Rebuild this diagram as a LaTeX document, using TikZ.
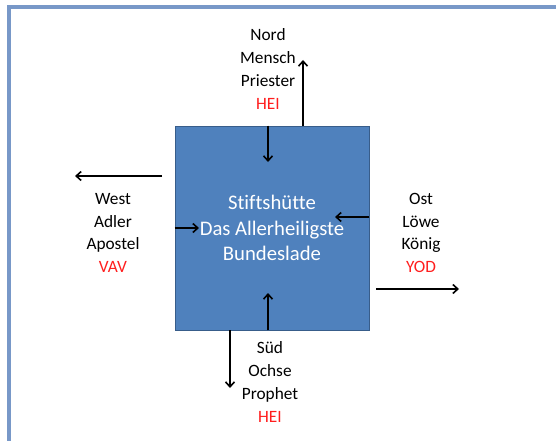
\documentclass[tikz,border=0pt]{standalone}
\usepackage{fontspec}
\setmainfont{Carlito}[Ligatures=NoCommon]
\usetikzlibrary{arrows.meta, positioning}
\definecolor{frameblue}{RGB}{120, 152, 200}
\definecolor{boxblue}{RGB}{79, 129, 189}
\definecolor{boxedge}{RGB}{56, 93, 138}
\definecolor{letterred}{RGB}{255, 30, 30}

\begin{document}
\begin{tikzpicture}[
  x=1pt, y=-1pt,
  hutte/.style={rectangle, draw=boxedge, fill=boxblue, line width=0.8pt, minimum width=194pt, minimum height=204pt, text=white, align=center, font=\fontsize{20.7}{25.5}\selectfont},
  side/.style={align=center, font=\fontsize{17.3}{22.7}\selectfont},
  arrow/.style={-{Straight Barb[length=5pt, width=9pt]}, line width=1.6pt, black}
]
  \useasboundingbox (0,0) rectangle (556,441);
  \draw[frameblue, line width=4.5pt] (9,441) -- (9,7) -- (556,7);

  \node[hutte] (hutte) at (272,228) {Stiftshütte\\Das Allerheiligste\\Bundeslade};

  \node[side] (nord) at (268,69) {Nord\\Mensch\\Priester\\{\color{letterred}HEI}};
  \node[side] (west) at (113,233) {West\\Adler\\Apostel\\{\color{letterred}VAV}};
  \node[side] (ost) at (421,233) {Ost\\Löwe\\König\\{\color{letterred}YOD}};
  \node[side] (sued) at (270,382) {Süd\\Ochse\\Prophet\\{\color{letterred}HEI}};

  % ends of the arrows
  \coordinate (nordaus) at (303,60);
  \coordinate (nordein) at (268,162);
  \coordinate (suedein) at (268,293);
  \coordinate (suedaus) at (230,388);
  \coordinate (weststart) at (162,176);
  \coordinate (westaus) at (75,176);
  \coordinate (westein) at (199,228);
  \coordinate (ostein) at (335,217);
  \coordinate (oststart) at (376,289);
  \coordinate (ostaus) at (459,289);

  \draw[arrow] (hutte.north -| nordaus) -- (nordaus);
  \draw[arrow] (hutte.north -| nordein) -- (nordein);
  \draw[arrow] (hutte.south -| suedein) -- (suedein);
  \draw[arrow] (hutte.south -| suedaus) -- (suedaus);
  \draw[arrow] (weststart) -- (westaus);
  \draw[arrow] (hutte.west |- westein) -- (westein);
  \draw[arrow] (hutte.east |- ostein) -- (ostein);
  \draw[arrow] (oststart) -- (ostaus);
\end{tikzpicture}
\end{document}
